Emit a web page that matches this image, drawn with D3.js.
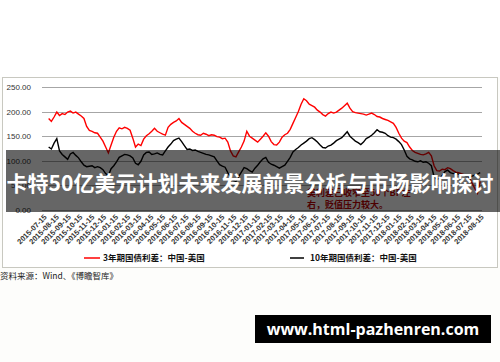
<!DOCTYPE html>
<html>
<head>
<meta charset="utf-8">
<script src="https://cdn.jsdelivr.net/npm/d3@7"></script>
<style>
  body { margin: 0; background: #fdfdfb; }
  svg { display: block; }
</style>
</head>
<body>
<script>
// weekly readings, first week starts 2015-07-27
var startDate = "2015-07-27";

var spread3y = [186,180,189,199,192,196,194,199,201,197,199,195,191,186,170,162,160,157,156,148,
  140,128,116,132,148,160,167,165,168,166,162,146,128,134,131,144,151,155,160,166,
  160,157,154,152,168,174,178,181,186,178,174,170,166,160,156,153,152,156,154,151,
  153,152,149,148,145,146,138,120,110,108,118,128,140,160,150,146,142,138,144,150,
  157,150,139,133,132,138,148,153,156,164,176,188,200,215,226,222,215,212,209,203,
  199,194,191,196,199,197,199,203,207,212,217,207,200,198,197,196,195,193,195,197,
  194,190,189,186,184,182,179,176,168,156,146,140,137,128,121,117,115,113,112,114,
  117,110,90,80,79,83,82,86,84,80,77,76,74,72,70,66,55,44,34,58];

var spread10y = [128,124,136,145,120,113,108,103,114,117,111,106,98,91,88,89,90,86,88,86,
  82,74,70,84,90,98,107,110,113,112,110,106,95,92,99,112,117,118,113,114,
  116,113,112,120,128,134,141,144,146,139,131,123,124,121,122,119,117,115,113,112,
  110,108,100,92,89,87,76,67,60,58,68,77,86,84,80,77,85,91,98,104,
  107,97,93,91,88,85,88,91,99,107,118,123,127,132,136,140,145,147,143,138,
  132,127,126,130,132,136,141,144,147,153,159,150,145,140,137,133,138,145,148,152,
  157,163,159,158,156,151,148,147,144,139,133,122,109,104,102,99,98,100,97,98,
  95,90,68,62,64,70,78,81,76,74,75,73,72,71,68,67,69,71,73,76];

var yTicks = [0, 50, 100, 150, 200, 250];

var xTickLabels = ["2015-07-15","2015-08-15","2015-09-15","2015-10-15","2015-11-15","2015-12-15",
  "2016-01-15","2016-02-15","2016-03-15","2016-04-15","2016-05-15","2016-06-15","2016-07-15",
  "2016-08-15","2016-09-15","2016-10-15","2016-11-15","2016-12-15","2017-01-15","2017-02-15",
  "2017-03-15","2017-04-15","2017-05-15","2017-06-15","2017-07-15","2017-08-15","2017-09-15",
  "2017-10-15","2017-11-15","2017-12-15","2018-01-15","2018-02-15","2018-03-15","2018-04-15",
  "2018-05-15","2018-06-15","2018-07-15","2018-08-15"];

var seriesNames = ["3年期国债利差：中国-美国", "10年期国债利差：中国-美国"];
var seriesColors = ["#ff0000", "#000000"];

var title = "卡特50亿美元计划未来发展前景分析与市场影响探讨";
var note = ["美利差已收窄至50个BP左", "右，贬值压力较大。"];
var source = "资料来源：Wind、《博瞻智库》";
var site = "www.html-pazhenren.com";

var width = 500, height = 362;
var parse = d3.timeParse("%Y-%m-%d");
var t0 = parse(startDate);
var dates = spread3y.map(function(d, i) { return d3.timeDay.offset(t0, i * 7); });

var svg = d3.select("body").append("svg")
    .attr("width", width)
    .attr("height", height);

svg.append("rect").attr("width", width).attr("height", 77).attr("fill", "#fff");

// chart frame
svg.append("rect")
    .attr("x", 2.5).attr("y", 77.5)
    .attr("width", 495).attr("height", 190)
    .attr("fill", "#fff")
    .attr("stroke", "#c8c8c0");

var x = d3.scaleTime()
    .domain([parse("2015-07-15"), parse("2018-08-15")])
    .range([44, 481]);

var y = d3.scaleLinear().domain([0, 250]).range([210, 87]);

// grid + y labels
svg.append("g").selectAll("line")
    .data(yTicks)
  .enter().append("line")
    .attr("x1", 42).attr("x2", 482)
    .attr("y1", function(d) { return Math.round(y(d)) + 0.5; })
    .attr("y2", function(d) { return Math.round(y(d)) + 0.5; })
    .attr("stroke", "#a6a6a6");

svg.append("g").selectAll("text")
    .data(yTicks)
  .enter().append("text")
    .attr("x", 31)
    .attr("y", function(d) { return y(d) + 3; })
    .attr("text-anchor", "end")
    .style("font", "8px 'Liberation Sans', sans-serif")
    .attr("fill", "#333")
    .text(function(d) { return d3.format(".2f")(d); });

// x labels
var xAxis = d3.axisBottom(x)
    .tickValues(xTickLabels.map(parse))
    .tickFormat(d3.timeFormat("%Y-%m-%d"))
    .tickSize(0);

var gx = svg.append("g")
    .attr("transform", "translate(0,212)")
    .call(xAxis);
gx.select(".domain").remove();
gx.selectAll("text")
    .attr("text-anchor", "end")
    .attr("transform", "rotate(-45)")
    .attr("dx", "-2")
    .attr("dy", "6")
    .attr("y", 0)
    .style("font", "bold 7.5px 'Liberation Sans', sans-serif")
    .attr("fill", "#333");

// lines
var line = d3.line()
    .x(function(d, i) { return x(dates[i]); })
    .y(function(d) { return y(d); });

svg.append("path").datum(spread3y)
    .attr("d", line)
    .attr("fill", "none")
    .attr("stroke", seriesColors[0])
    .attr("stroke-width", 1.4);

svg.append("path").datum(spread10y)
    .attr("d", line)
    .attr("fill", "none")
    .attr("stroke", seriesColors[1])
    .attr("stroke-width", 1.4);

// annotation
svg.append("g").selectAll("text")
    .data(note)
  .enter().append("text")
    .attr("x", 307)
    .attr("y", function(d, i) { return 196 + i * 12; })
    .style("font", "bold 9px 'Noto Sans CJK SC', sans-serif")
    .attr("fill", "#c00000")
    .text(function(d) { return d; });

// legend
var legend = svg.append("g").selectAll("g")
    .data(seriesNames)
  .enter().append("g")
    .attr("transform", function(d, i) { return "translate(" + (i === 0 ? 84 : 290) + ",258)"; });

legend.append("line")
    .attr("x1", 0).attr("x2", function(d, i) { return i === 0 ? 16 : 14; })
    .attr("stroke", function(d, i) { return seriesColors[i]; })
    .attr("stroke-width", 1.5);

legend.append("text")
    .attr("x", function(d, i) { return i === 0 ? 19 : 20; })
    .attr("y", 3)
    .style("font", "bold 8.5px 'Noto Sans CJK SC', sans-serif")
    .attr("fill", "#111")
    .text(function(d) { return d; });

// title band
svg.append("rect")
    .attr("x", 6).attr("y", 150)
    .attr("width", 494).attr("height", 62)
    .attr("fill", "rgba(0,0,0,0.6)");

svg.append("text")
    .attr("x", 250).attr("y", 191)
    .attr("text-anchor", "middle")
    .style("font", "bold 21px 'Noto Sans CJK SC', sans-serif")
    .attr("fill", "#fff")
    .text(title);

svg.append("text")
    .attr("x", 0).attr("y", 279)
    .style("font", "8.5px 'Noto Sans CJK SC', sans-serif")
    .attr("fill", "#222")
    .text(source);

svg.append("rect")
    .attr("x", 255).attr("y", 315)
    .attr("width", 236).attr("height", 28)
    .attr("fill", "#000");

svg.append("text")
    .attr("x", 373).attr("y", 335)
    .attr("text-anchor", "middle")
    .style("font", "bold 16px 'Open Sans', sans-serif")
    .attr("fill", "#fff")
    .text(site);
</script>
</body>
</html>
